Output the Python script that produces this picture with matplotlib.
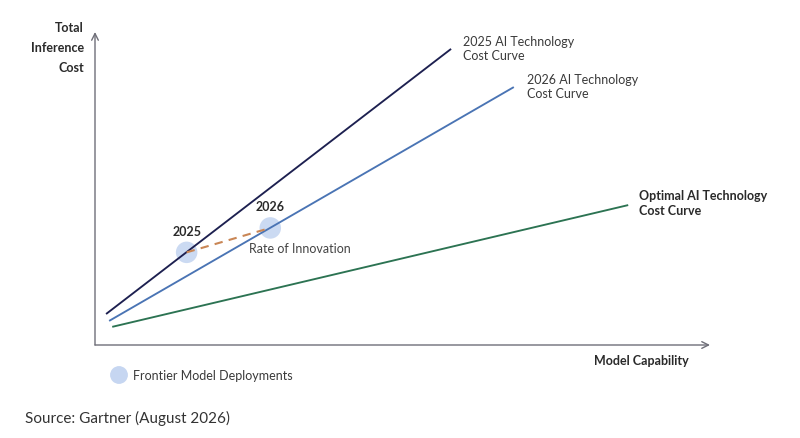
import matplotlib
matplotlib.use("Agg")
import matplotlib.pyplot as plt

plt.rcParams['font.family'] = ['Lato', 'DejaVu Sans']

# ---- data (capability x, cost y; arbitrary 0-100 units) ----
curve_names = ["2025 AI Technology\nCost Curve", "2026 AI Technology\nCost Curve",
               "Optimal AI Technology\nCost Curve"]
curve_x = [[1.8, 57.9], [2.3, 68.1], [2.8, 86.7]]
curve_y = [[9.9, 94.6], [7.7, 82.4], [5.8, 44.7]]
curve_colors = ["#1d2050", "#4a74b4", "#2c7352"]

deploy_years = ["2025", "2026"]
deploy_x = [14.9, 28.5]
deploy_y = [29.6, 37.4]

W, H = 800, 438
fig = plt.figure(figsize=(W / 100, H / 100), dpi=100)
left, right, bottom, top = 95, 710, 345, 32
ax = fig.add_axes([left / W, (H - bottom) / H, (right - left) / W, (bottom - top) / H])
ax.set_xlim(0, 100)
ax.set_ylim(0, 100)
ax.axis('off')

axis_col = "#6e6e78"
ax.annotate("", xy=(0, 1.0), xytext=(0, 0), xycoords='axes fraction',
            arrowprops=dict(arrowstyle='->', color=axis_col, lw=1.0, shrinkA=0, shrinkB=0,
                            mutation_scale=12))
ax.annotate("", xy=(1.0, 0), xytext=(0, 0), xycoords='axes fraction',
            arrowprops=dict(arrowstyle='->', color=axis_col, lw=1.0, shrinkA=0, shrinkB=0,
                            mutation_scale=12))

# deployments circles
ax.scatter(deploy_x, deploy_y, s=240, color="#c6d6f1", zorder=2, edgecolors='none', alpha=0.9)

for xs, ys, c in zip(curve_x, curve_y, curve_colors):
    ax.plot(xs, ys, color=c, lw=1.35, zorder=3, solid_capstyle='butt')

ax.plot(deploy_x, deploy_y, color="#c98655", lw=1.5, ls=(0, (4, 3)), zorder=4)

txt = "#2a2a2a"
# curve labels
ax.text(59.8, 94.5, curve_names[0], fontsize=9, color="#3a3a3a", va='center',
        ha='left', linespacing=1.25)
ax.text(70.2, 82.5, curve_names[1], fontsize=9, color="#3a3a3a", va='center',
        ha='left', linespacing=1.25)
ax.text(88.4, 45.2, curve_names[2], fontsize=9, color=txt, va='center', ha='left',
        fontweight='bold', linespacing=1.25)

# deployment year labels
ax.text(deploy_x[0], deploy_y[0] + 6.5, deploy_years[0], fontsize=9, fontweight='bold',
        ha='center', va='center', color=txt)
ax.text(deploy_x[1], deploy_y[1] + 6.8, deploy_years[1], fontsize=9, fontweight='bold',
        ha='center', va='center', color=txt)
ax.text(25.0, 30.7, "Rate of Innovation", fontsize=9, ha='left', va='center', color="#444444")

# axis titles
fig.text(84 / W, 1 - 48 / H, "Total\nInference\nCost", fontsize=9, fontweight='bold',
         ha='right', va='center', color=txt, linespacing=1.75)
fig.text(689 / W, 1 - 361 / H, "Model Capability", fontsize=9, fontweight='bold',
         ha='right', va='center', color=txt)

# legend
fig.add_artist(plt.Circle((119 / 100, (H - 375) / 100), 0.082,
                          transform=fig.dpi_scale_trans, color="#c6d6f1"))
fig.text(133 / W, 1 - 376 / H, "Frontier Model Deployments", fontsize=9, ha='left',
         va='center', color="#3a3a3a")

fig.text(25 / W, 1 - 418 / H, "Source: Gartner (August 2026)", fontsize=11, ha='left',
         va='center', color="#333333")

fig.savefig("out.png", dpi=100, facecolor='white')
